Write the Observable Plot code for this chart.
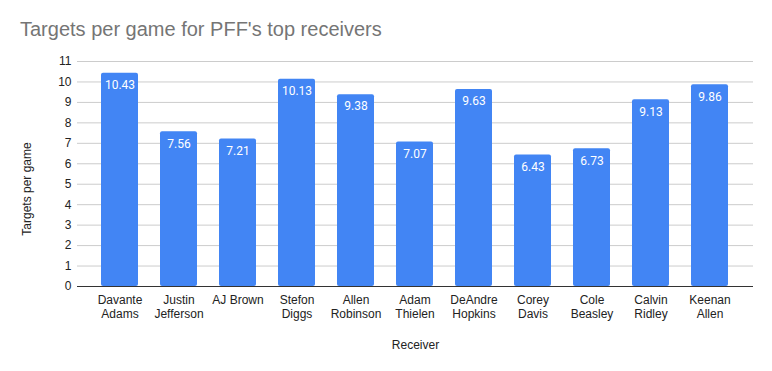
<!DOCTYPE html>
<html>
<head>
<meta charset="utf-8">
<script src="https://cdn.jsdelivr.net/npm/d3@7"></script>
<script src="https://cdn.jsdelivr.net/npm/@observablehq/plot@0.6"></script>
<style>
  body { margin: 0; background: #fff; }
  #wrap { position: relative; width: 772px; height: 371px; overflow: hidden; }
  #title { position: absolute; left: 20px; top: 18px; font: 20px "Liberation Sans", Arial, sans-serif; color: #757575; white-space: nowrap; }
  #chart { position: absolute; left: 0; top: 45px; }
</style>
</head>
<body>
<div id="wrap">
  <div id="title">Targets per game for PFF's top receivers</div>
  <div id="chart"></div>
</div>
<script>
const receivers = ["Davante Adams", "Justin Jefferson", "AJ Brown", "Stefon Diggs", "Allen Robinson", "Adam Thielen", "DeAndre Hopkins", "Corey Davis", "Cole Beasley", "Calvin Ridley", "Keenan Allen"];
const tickLabels = ["Davante\nAdams", "Justin\nJefferson", "AJ Brown", "Stefon\nDiggs", "Allen\nRobinson", "Adam\nThielen", "DeAndre\nHopkins", "Corey\nDavis", "Cole\nBeasley", "Calvin\nRidley", "Keenan\nAllen"];
const targets = [10.43, 7.56, 7.21, 10.13, 9.38, 7.07, 9.63, 6.43, 6.73, 9.13, 9.86];
const yTicks = [0, 1, 2, 3, 4, 5, 6, 7, 8, 9, 10, 11];

const data = receivers.map((r, i) => ({receiver: r, value: targets[i], label: tickLabels[i]}));
const labelOf = new Map(receivers.map((r, i) => [r, tickLabels[i]]));

const chart = Plot.plot({
  width: 772,
  height: 326,
  marginTop: 16,
  marginBottom: 85,
  marginLeft: 77,
  marginRight: 19,
  style: {fontFamily: "'Liberation Sans', Arial, sans-serif", fontSize: "12px", color: "#222"},
  x: {domain: receivers, padding: 0.365, label: null},
  y: {domain: [0, 11], ticks: yTicks, label: null},
  marks: [
    Plot.gridY(yTicks, {stroke: "#cccccc", strokeOpacity: 1, strokeWidth: 1}),
    Plot.axisY(yTicks, {tickSize: 0, tickPadding: 6, fontSize: 12, fill: "#222", label: null}),
    Plot.barY(data, {x: "receiver", y: "value", fill: "#4285F4", rx: 2}),
    Plot.ruleY([0], {stroke: "#333", strokeWidth: 1}),
    Plot.axisX({tickSize: 0, tickPadding: 8, fontSize: 12, fill: "#222", lineHeight: 1.15, tickFormat: d => labelOf.get(d), label: null}),
    Plot.text(data, {x: "receiver", y: "value", text: d => d.value.toFixed(2), fill: "white", dy: 12, fontSize: 12, fontFamily: "Roboto, sans-serif", lineAnchor: "middle"}),
    Plot.text(["Receiver"], {frameAnchor: "bottom", dy: 59, fontSize: 12, fill: "#222", lineAnchor: "middle"}),
    Plot.text(["Targets per game"], {frameAnchor: "left", dx: -50, dy: 15, rotate: -90, fontSize: 12, fill: "#222", textAnchor: "middle", lineAnchor: "middle"})
  ]
});
document.getElementById("chart").appendChild(chart);
</script>
</body>
</html>
